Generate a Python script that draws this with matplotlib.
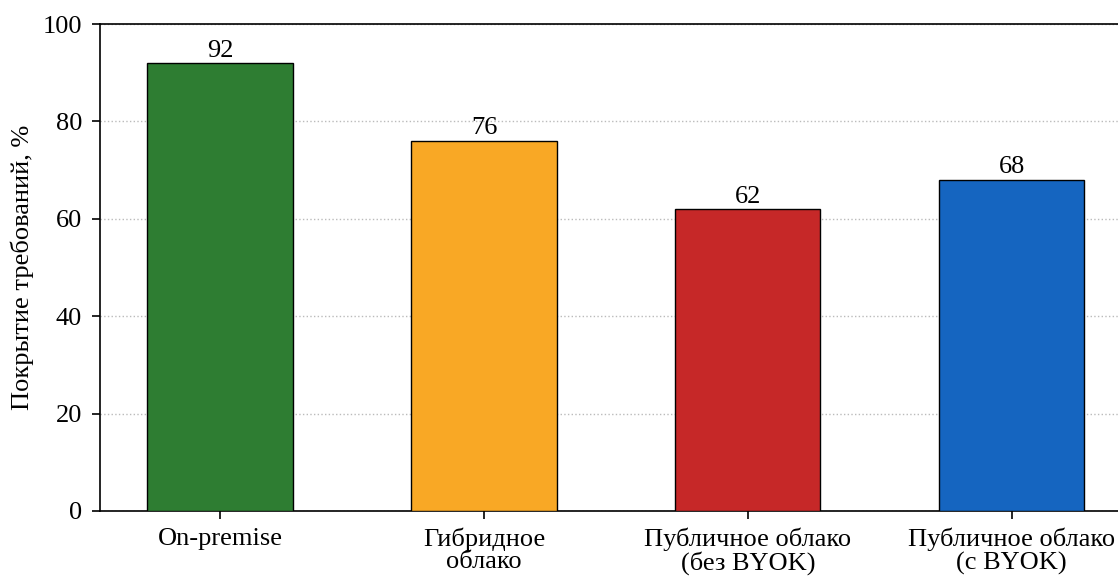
import numpy as np
import matplotlib.pyplot as plt

plt.rcParams['font.family'] = ['Liberation Serif', 'DejaVu Serif']

categories = ['On-premise', 'Гибридное\nоблако', 'Публичное облако\n(без BYOK)', 'Публичное облако\n(с BYOK)']
coverage = [92, 76, 62, 68]
colors = ['#2E7D32', '#F9A825', '#C62828', '#1565C0']

fig = plt.figure(figsize=(11.18, 5.77), dpi=100)
ax = fig.add_axes([0.0894, 0.1144, 0.923, 0.844])

x = np.arange(len(categories))
bars = ax.bar(x, coverage, width=0.55, color=colors, edgecolor='black', linewidth=1.0, zorder=3)

# подписи значений над столбцами
for b, v in zip(bars, coverage):
    ax.text(b.get_x() + b.get_width() / 2, v + 0.3, f'{v}', ha='center', va='bottom', fontsize=19)

ax.set_xlim(-0.455, 3.455)
ax.set_ylim(0, 100)
ax.set_xticks(x)
ax.set_xticklabels(categories, fontsize=19, linespacing=1.02)
ax.set_yticks([0, 20, 40, 60, 80, 100])
ax.tick_params(axis='y', labelsize=19, length=6, width=1.2, pad=7)
ax.tick_params(axis='x', length=6, width=1.2, pad=6)
ax.set_ylabel('Покрытие требований, %', fontsize=19, labelpad=6)
ax.yaxis.grid(True, linestyle=':', color='#bbbbbb', linewidth=1, zorder=0)
for s in ax.spines.values():
    s.set_linewidth(1.2)

fig.savefig('out.png', dpi=100)
